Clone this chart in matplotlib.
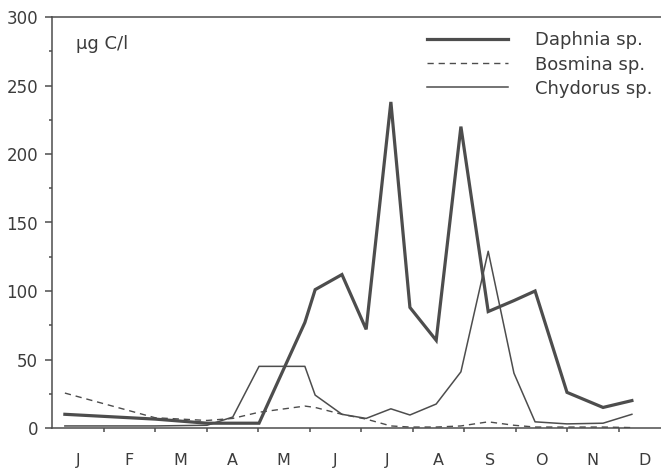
import matplotlib
matplotlib.use('Agg')

import matplotlib.pyplot as plt
from matplotlib.ticker import MultipleLocator, FixedLocator

# sampling dates as month position (0 = start of January)
t = [0.25, 2.0, 3.01, 3.51, 4.02, 4.91, 5.11, 5.63, 6.10, 6.58, 6.95,
     7.46, 7.94, 8.47, 8.97, 9.38, 10.0, 10.70, 11.26]

daphnia = [10, 6.5, 3.5, 3.5, 3.5, 77, 101, 112, 72, 238, 88,
           64, 220, 85, 93, 100, 26, 15, 20]
bosmina = [25.5, 7.5, 5.5, 7, 11.5, 16, 15, 10, 6.5, 1.5, 0.7,
           0.7, 1.5, 4.5, 2, 0.7, 0.7, 0.7, 0.3]
chydorus = [1.5, 1.5, 2, 8, 45, 45, 24, 10, 7, 14, 9.5,
            17.5, 41, 129, 40, 4.5, 3, 3.5, 10]

months = ['J', 'F', 'M', 'A', 'M', 'J', 'J', 'A', 'S', 'O', 'N', 'D']
yticks = [0, 50, 100, 150, 200, 250, 300]

ink = '#4d4d4d'
txt = '#3c3c3c'

fig = plt.figure(figsize=(6.61, 4.73), dpi=100)
ax = fig.add_axes([52 / 661, 45 / 473, 609 / 661, 411 / 473])

ax.plot(t, daphnia, color=ink, linewidth=2.3, label='Daphnia sp.',
        solid_joinstyle='miter')
ax.plot(t, bosmina, color=ink, linewidth=1.0, linestyle=(0, (4.5, 3.5)),
        label='Bosmina sp.')
ax.plot(t, chydorus, color=ink, linewidth=1.1, label='Chydorus sp.')

ax.set_xlim(0, 609 / 51.5)
ax.set_ylim(0, 300)

for side in ['top', 'left', 'bottom']:
    ax.spines[side].set_color(ink)
    ax.spines[side].set_linewidth(1.1)
ax.spines['right'].set_visible(False)

ax.yaxis.set_major_locator(FixedLocator(yticks))
ax.yaxis.set_minor_locator(MultipleLocator(25))
ax.set_yticklabels([str(v) for v in yticks])
ax.tick_params(axis='y', which='major', direction='out', length=5, width=1.1,
               color=ink, labelsize=12, labelcolor=txt, pad=5)
ax.tick_params(axis='y', which='minor', direction='out', length=2.5, width=1.1,
               color=ink)

ax.xaxis.set_major_locator(FixedLocator(range(1, 12)))
ax.xaxis.set_minor_locator(FixedLocator([i + 0.5 for i in range(12)]))
ax.set_xticklabels([], minor=False)
ax.set_xticklabels(months, minor=True)
ax.tick_params(axis='x', which='major', direction='out', length=3, width=1.1,
               color=ink)
ax.tick_params(axis='x', which='minor', length=0, labelsize=11.5,
               labelcolor=txt, pad=18)

ax.text(0.04, 0.935, 'µg C/l', transform=ax.transAxes, fontsize=13,
        color=txt, va='center', ha='left')

leg = ax.legend(loc='upper left', bbox_to_anchor=(0.616, 0.965), frameon=False,
                fontsize=13, handlelength=4.5, handletextpad=1.5,
                labelspacing=0.34, borderpad=0, borderaxespad=0)
for tx in leg.get_texts():
    tx.set_color(txt)

fig.savefig('out.png', dpi=100)
plt.close(fig)
